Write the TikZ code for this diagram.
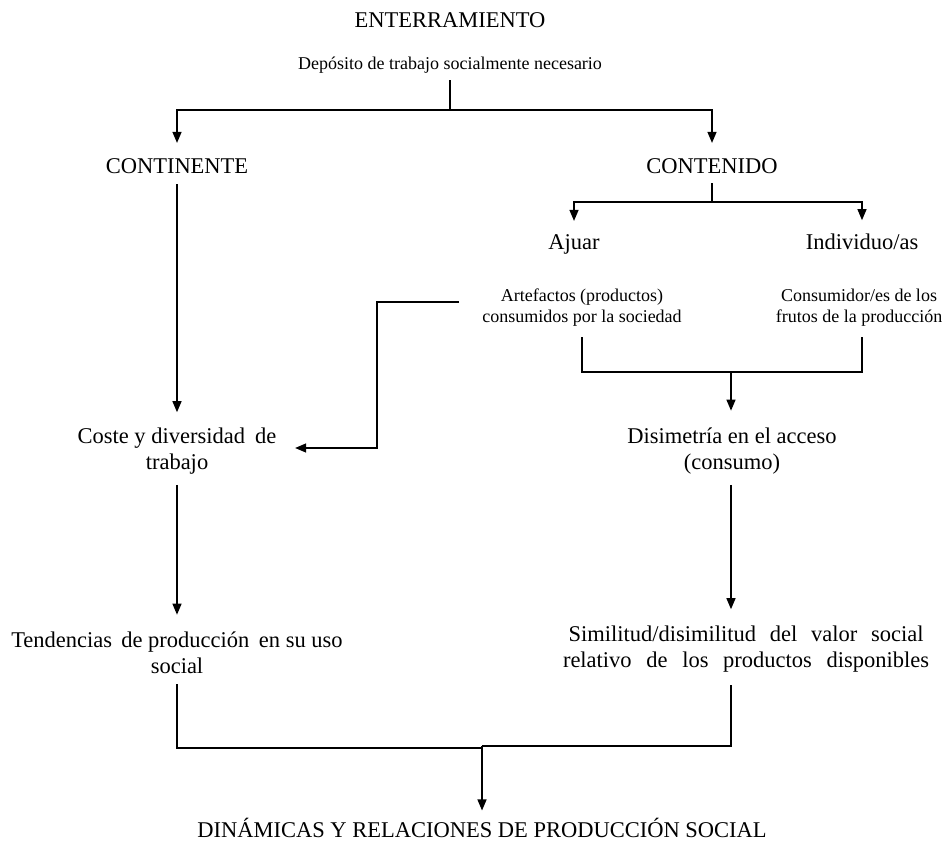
\documentclass[tikz,border=0pt]{standalone}
\usepackage{fontspec}
\setmainfont{Liberation Serif}
\usetikzlibrary{arrows.meta}
\newcommand{\twoline}[2]{\vtop{\halign{\hfil##\hfil\cr#1\cr#2\cr}}}
\begin{document}
\begin{tikzpicture}[x=1pt,y=-1pt,
  ln/.style={line width=1.3pt},
  arr/.style={ln,-{Triangle[width=9pt,length=11pt]}},
  big/.style={font=\fontsize{22.5}{26}\selectfont, inner sep=0pt, anchor=base},
  small/.style={font=\fontsize{18}{21}\selectfont, inner sep=0pt, anchor=base}]
\useasboundingbox[fill=white] (0,0) rectangle (949,843);

% texts
\node[big]   (ent)   at (450,28)  {ENTERRAMIENTO};
\node[small] (dep)   at (450,69)  {Depósito de trabajo socialmente necesario};
\node[big]   (cont)  at (177,173) {CONTINENTE};
\node[big]   (conte) at (712,173) {CONTENIDO};
\node[big]   (ajuar) at (574,249) {Ajuar};
\node[big]   (indiv) at (862,249) {Individuo/as};
\node[small] (arte)  at (582,301) {\twoline{Artefactos (productos)}{consumidos por la sociedad}};
\node[small] (consu) at (859,301) {\twoline{Consumidor/es de los}{frutos de la producción}};
\node[big]   (coste) at (177,443) {\twoline{Coste y diversidad\hspace{4.5pt} de}{trabajo}};
\node[big]   (disi)  at (732,443) {\twoline{Disimetría en el acceso}{(consumo)}};
\node[big]   (tend)  at (177,647) {\twoline{Tendencias\hspace{3.5pt} de producción\hspace{4pt} en su uso}{social}};
\node[big]   (simi)  at (746,641) {\twoline{\makebox[355pt][s]{Similitud/disimilitud del valor social}}{\makebox[366pt][s]{relativo de los productos disponibles}}};
\node[big]   (din)   at (482,837) {DINÁMICAS Y RELACIONES DE PRODUCCIÓN SOCIAL};

% junctions
\coordinate (j1) at (450,110);
\coordinate (j2) at (712,202);
\coordinate (j3) at (731,372);
\coordinate (k1) at (377,448);
\coordinate (j4) at (482,748);
\coordinate (j5) at (482,746);

% connectors
\draw[ln, shorten <=7pt] (dep.south) -- (j1);
\draw[arr, shorten >=15pt] (j1) -| (cont.north);
\draw[arr, shorten >=15pt] (j1) -| (conte.north);
\draw[ln, shorten <=10pt] (conte.south) -- (j2);
\draw[arr, shorten >=13pt] (j2) -| (ajuar.north);
\draw[arr, shorten >=13pt] (j2) -| (indiv.north);
\draw[arr, shorten <=11pt, shorten >=15pt] (cont.south) -- (coste.north);
\draw[arr, shorten >=18.5pt] ([xshift=-23pt,yshift=-1pt]arte.base west) -| (k1) -- (k1 -| coste.east);
\draw[ln, shorten <=11pt] (arte.south) |- (j3);
\draw[ln, shorten <=11pt] (consu.south -| indiv) |- (j3);
\draw[arr, shorten >=16.5pt] (j3) -- (j3 |- disi.north);
\draw[arr, shorten <=11pt, shorten >=16.5pt] (coste.south) -- (tend.north);
\draw[arr, shorten <=11pt, shorten >=16pt] (disi.south -| j3) -- (j3 |- simi.north);
\draw[ln, shorten <=11pt] (tend.south) |- (j4);
\draw[ln, shorten <=13pt] (simi.south -| j3) |- (j5);
\draw[arr, shorten >=7pt] (j5) -- (din.north);
\end{tikzpicture}
\end{document}
